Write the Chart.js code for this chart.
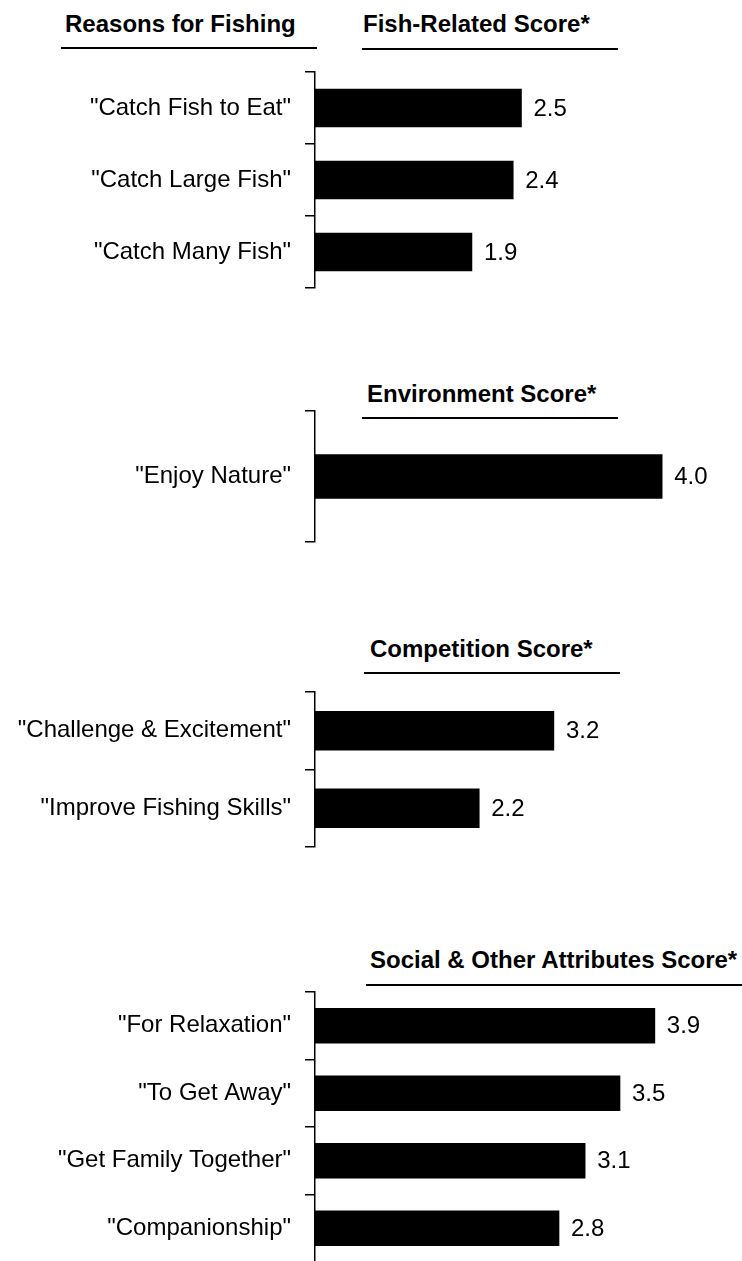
<!DOCTYPE html>
<html>
<head>
<meta charset="utf-8">
<script src="https://cdn.jsdelivr.net/npm/chart.js@4.4.0/dist/chart.umd.min.js"></script>
<style>
  html, body { margin: 0; padding: 0; background: #fff; overflow: hidden; }
  body { position: relative; width: 742px; height: 1261px; font-family: "Liberation Sans", Arial, sans-serif; }
  canvas { position: absolute; left: 0; display: block; }
  .head { position: absolute; font-weight: bold; font-size: 24px; line-height: 24px; color: #000; white-space: nowrap; }
  .rule { position: absolute; height: 0; border-top: 2px solid #000; }
</style>
</head>
<body>
<div class="head" style="left:65px;top:12px;">Reasons for Fishing</div>
<div class="rule" style="left:61px;top:47px;width:256px;"></div>

<div class="head" id="t1" style="left:363px;top:12px;"></div>
<div class="rule" style="left:362px;top:48px;width:256px;"></div>
<canvas id="c1" width="742" height="224" style="top:68px;"></canvas>

<div class="head" id="t2" style="left:367px;top:382px;"></div>
<div class="rule" style="left:362px;top:417px;width:256px;"></div>
<canvas id="c2" width="742" height="139" style="top:407px;"></canvas>

<div class="head" id="t3" style="left:370px;top:637px;"></div>
<div class="rule" style="left:364px;top:672px;width:256px;"></div>
<canvas id="c3" width="742" height="163" style="top:688px;"></canvas>

<div class="head" id="t4" style="left:370px;top:948px;"></div>
<div class="rule" style="left:366px;top:984px;width:376px;"></div>
<canvas id="c4" width="742" height="278" style="top:988px;"></canvas>

<script>
// panel titles
const titles = ["Fish-Related Score*", "Environment Score*", "Competition Score*", "Social & Other Attributes Score*"];

// Fish-related
const fishLabels = ['"Catch Fish to Eat"', '"Catch Large Fish"', '"Catch Many Fish"'];
const fishValues = [2.5, 2.4, 1.9];

// Environment
const envLabels = ['"Enjoy Nature"'];
const envValues = [4.0];

// Competition
const compLabels = ['"Challenge & Excitement"', '"Improve Fishing Skills"'];
const compValues = [3.2, 2.2];

// Social & other
const socialLabels = ['"For Relaxation"', '"To Get Away"', '"Get Family Together"', '"Companionship"'];
const socialValues = [3.9, 3.5, 3.1, 2.8];

// each panel in the original has its own value scale
const xMax = [5.17, 4.92, 5.72, 4.9];

const FONT = "'Liberation Sans', Arial, sans-serif";

const valueLabels = {
    id: "valueLabels",
    afterDatasetsDraw(chart) {
        const ctx = chart.ctx;
        const ds = chart.data.datasets[0];
        ctx.save();
        ctx.fillStyle = "#000";
        ctx.font = "24px " + FONT;
        ctx.textAlign = "left";
        ctx.textBaseline = "middle";
        chart.getDatasetMeta(0).data.forEach(function (bar, i) {
            ctx.fillText(ds.data[i].toFixed(1), bar.x + 12, bar.y + 1);
        });
        ctx.restore();
    }
};

function makeChart(id, labels, values, max, thickness) {
    return new Chart(document.getElementById(id), {
        type: "bar",
        data: {
            labels: labels,
            datasets: [{
                data: values,
                backgroundColor: "#000",
                borderWidth: 0,
                barThickness: thickness
            }]
        },
        options: {
            indexAxis: "y",
            responsive: false,
            animation: false,
            layout: { padding: { top: 4, bottom: 4, left: 0, right: 0 } },
            plugins: { legend: { display: false }, tooltip: { enabled: false } },
            scales: {
                x: { display: false, min: 0, max: max },
                y: {
                    afterFit: function (s) {
                        s.width = 315;
                        s.paddingTop = 0;
                        s.paddingBottom = 0;
                    },
                    border: { display: true, color: "#000", width: 1.5 },
                    grid: { drawOnChartArea: false, drawTicks: true, tickLength: 10, color: "#000", lineWidth: 1.5, offset: true },
                    ticks: { color: "#000", padding: 14, font: { family: FONT, size: 24 } }
                }
            }
        },
        plugins: [valueLabels]
    });
}

["t1", "t2", "t3", "t4"].forEach(function (id, i) {
    document.getElementById(id).textContent = titles[i];
});

makeChart("c1", fishLabels, fishValues, xMax[0], 38);
makeChart("c2", envLabels, envValues, xMax[1], 44);
makeChart("c3", compLabels, compValues, xMax[2], 39);
makeChart("c4", socialLabels, socialValues, xMax[3], 35);
</script>
</body>
</html>
